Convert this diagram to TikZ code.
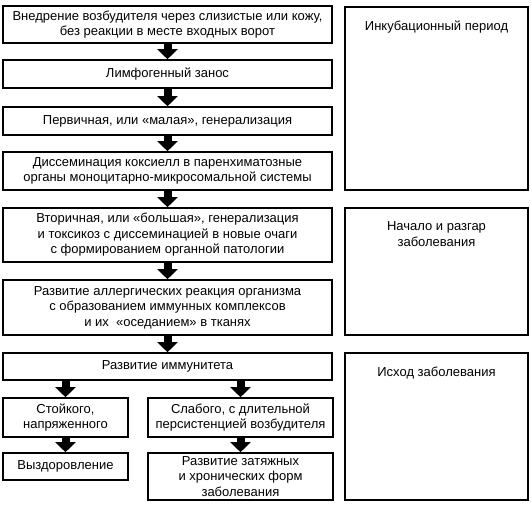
\documentclass[tikz,border=0pt]{standalone}
\usepackage{fontspec}
\setmainfont{Liberation Sans}
\usetikzlibrary{arrows.meta}
\tikzset{
  box/.style={draw=black, line width=1.6pt, fill=white, inner sep=0pt, align=center,
    font=\fontsize{13}{15.5}\selectfont},
  fat/.style={line width=8pt, -{Triangle[width=20pt,length=10pt]}},
  lbl/.style={font=\fontsize{13}{16.5}\selectfont, align=center, anchor=north, inner sep=0pt}
}
\begin{document}
\begin{tikzpicture}[x=1pt,y=-1pt]
\useasboundingbox (0,0) rectangle (531,513);
% left column
\node[box, minimum width=329pt, minimum height=37pt] (b1) at (167.5,24.5)
  {Внедрение возбудителя через слизистые или кожу,\\без реакции в месте входных ворот};
\node[box, minimum width=329pt, minimum height=28pt] (b2) at (167.5,74)
  {Лимфогенный занос};
\node[box, minimum width=329pt, minimum height=28pt] (b3) at (167.5,121)
  {Первичная, или «малая», генерализация};
\node[box, minimum width=329pt, minimum height=38pt] (b4) at (167.5,171)
  {Диссеминация коксиелл в паренхиматозные\\органы моноцитарно-микросомальной системы};
\node[box, minimum width=329pt, minimum height=54pt] (b5) at (167.5,235)
  {Вторичная, или «большая», генерализация\\и токсикоз с диссеминацией в новые очаги\\с формированием органной патологии};
\node[box, minimum width=329pt, minimum height=55pt] (b6) at (167.5,307.5)
  {Развитие аллергических реакция организма\\с образованием иммунных комплексов\\и их \ «оседанием» в тканях};
\node[box, minimum width=329pt, minimum height=27pt] (b7) at (167.5,366.5)
  {Развитие иммунитета};
\node[box, minimum width=125pt, minimum height=39pt] (b8) at (65.5,417.5)
  {Стойкого,\\напряженного};
\node[box, minimum width=185pt, minimum height=39pt] (b9) at (240.5,417.5)
  {Слабого, с длительной\\персистенцией возбудителя};
\node[box, minimum width=125pt, minimum height=27pt] (b10) at (65.5,466.5)
  {Выздоровление};
\node[box, minimum width=185pt, minimum height=47pt] (b11) at (240.5,476.5)
  {Развитие затяжных\\и хронических форм\\заболевания};
% right column
\node[box, minimum width=183pt, minimum height=183pt,
  label={[lbl, yshift=-14pt]north:{Инкубационный период}}] (r1) at (436.5,98.5) {};
\node[box, minimum width=183pt, minimum height=127pt,
  label={[lbl, yshift=-14pt]north:{Начало и разгар\\заболевания}}] (r2) at (436.5,271.5) {};
\node[box, minimum width=183pt, minimum height=147pt,
  label={[lbl, yshift=-15pt]north:{Исход заболевания}}] (r3) at (436.5,426.5) {};
% arrows
\draw[fat] (b1.south) -- (b2.north);
\draw[fat] (b2.south) -- (b3.north);
\draw[fat] (b3.south) -- (b4.north);
\draw[fat] (b4.south) -- (b5.north);
\draw[fat] (b5.south) -- (b6.north);
\draw[fat] (b6.south) -- (b7.north);
\draw[fat] (b8.north |- b7.south) -- (b8.north);
\draw[fat] (b9.north |- b7.south) -- (b9.north);
\draw[fat] (b8.south) -- (b10.north);
\draw[fat] (b9.south) -- (b11.north);
\end{tikzpicture}
\end{document}
